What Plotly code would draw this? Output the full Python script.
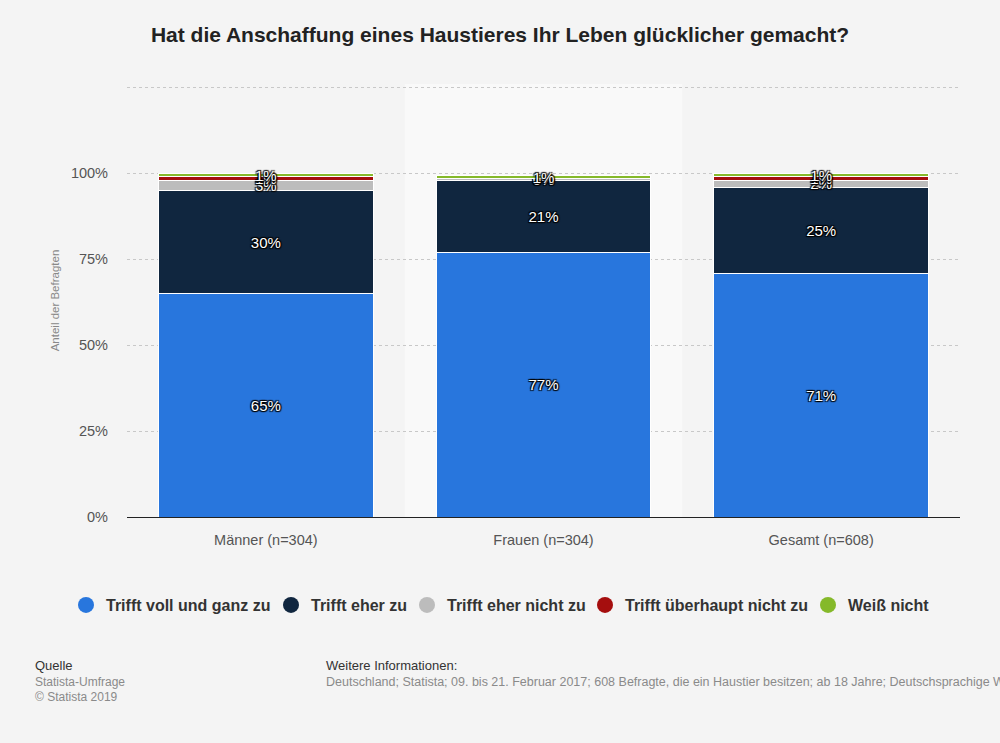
import plotly.graph_objects as go

categories = ["Männer (n=304)", "Frauen (n=304)", "Gesamt (n=608)"]
series_names = ["Trifft voll und ganz zu", "Trifft eher zu", "Trifft eher nicht zu",
                "Trifft überhaupt nicht zu", "Weiß nicht"]
voll = [65, 77, 71]
eher = [30, 21, 25]
eher_nicht = [3, 0.4, 2]
ueberhaupt_nicht = [1, 0, 1]
weiss_nicht = [1, 1, 1]
series_values = [voll, eher, eher_nicht, ueberhaupt_nicht, weiss_nicht]
colors = ["#2876dd", "#10263f", "#bcbcbc", "#a50e0e", "#85b92a"]
y_ticks = [0, 25, 50, 75, 100, 125]
y_ticklabels = ["0%", "25%", "50%", "75%", "100%", ""]

FONT = "Liberation Sans, Arial, sans-serif"
shadow = "1px 1px 1px #000, -1px -1px 1px #000, 1px -1px 1px #000, -1px 1px 1px #000"

W, H = 1000, 743
L, R, T, B = 127, 40, 84, 226
PW, PH = W - L - R, H - T - B

legend_x_px = [86, 291, 427, 605, 828]  # circle centres of legend entries

fig = go.Figure()
for i, (name, vals, col) in enumerate(zip(series_names, series_values, colors)):
    fig.add_trace(go.Bar(
        x=categories, y=vals, name=name, marker=dict(color=col, line=dict(color="#ffffff", width=1)),
        text=[f"{round(v)}%" for v in vals], textposition="inside", insidetextanchor="middle",
        textfont=dict(color="#ffffff", size=15, family=FONT, shadow=shadow),
        showlegend=False, hoverinfo="skip", cliponaxis=False,
    ))
    lname = "legend" if i == 0 else f"legend{i + 1}"
    fig.add_trace(go.Scatter(
        x=[None], y=[None], mode="markers", name=name, legend=lname,
        marker=dict(symbol="circle", size=17, color=col), showlegend=True,
    ))

fig.add_shape(type="rect", xref="x", yref="paper", x0=0.5, x1=1.5, y0=0, y1=1,
              fillcolor="#f9f9f9", line=dict(width=0), layer="below")

legend_style = dict(orientation="h", xref="container", xanchor="left",
                    y=1 - 605 / H, yref="container", yanchor="middle",
                    font=dict(size=16, color="#333333", family=FONT, weight="bold"),
                    itemwidth=30, bgcolor="rgba(0,0,0,0)")
legends = {}
for i, cx in enumerate(legend_x_px):
    key = "legend" if i == 0 else f"legend{i + 1}"
    legends[key] = dict(legend_style, x=(cx - 20) / W)

fig.update_layout(
    barmode="stack", bargap=0.227,
    width=W, height=H,
    paper_bgcolor="#f4f4f4", plot_bgcolor="#f4f4f4",
    margin=dict(l=L, r=R, t=T, b=B),
    font=dict(family=FONT, color="#555555"),
    title=dict(text="<b>Hat die Anschaffung eines Haustieres Ihr Leben glücklicher gemacht?</b>",
               x=0.5, xref="container", xanchor="center", y=1 - 35 / H, yref="container",
               yanchor="middle", font=dict(size=21, color="#222222", family=FONT)),
    uniformtext=dict(mode="show", minsize=15),
    **legends,
)
fig.update_yaxes(range=[0, 126], tickvals=y_ticks, ticktext=y_ticklabels,
                 showgrid=True, gridcolor="#c8c8c8", griddash="dot", gridwidth=1,
                 zeroline=False, showline=False, ticklabelstandoff=18,
                 tickfont=dict(size=14.5, color="#555555"),
                 title=dict(text="Anteil der Befragten", font=dict(size=11.5, color="#888888"),
                            standoff=8))
fig.update_xaxes(showline=True, linecolor="#222222", linewidth=1, showgrid=False,
                 ticklabelstandoff=10, tickfont=dict(size=14.5, color="#555555"),
                 range=[-0.5, 2.5])

ann = [
    (33, 665, "Quelle", 13, "#333333"),
    (33, 682, "Statista-Umfrage", 12, "#8a8a8a"),
    (33, 697, "© Statista 2019", 12, "#8a8a8a"),
    (324, 665, "Weitere Informationen:", 13, "#333333"),
    (324, 682, "Deutschland; Statista; 09. bis 21. Februar 2017; 608 Befragte, die ein Haustier besitzen; ab 18 Jahre; Deutschsprachige Wohnbevölkerung", 12.5, "#8a8a8a"),
]
for x, y, t, s, c in ann:
    fig.add_annotation(text=t, x=(x - L) / PW, y=(H - B - y) / PH, xref="paper", yref="paper",
                       xanchor="left", yanchor="middle", showarrow=False,
                       font=dict(size=s, color=c, family=FONT))

fig.write_html("out.html", config={"displayModeBar": False},
               post_script="document.body.style.margin='0';document.body.style.background='#f4f4f4';")
